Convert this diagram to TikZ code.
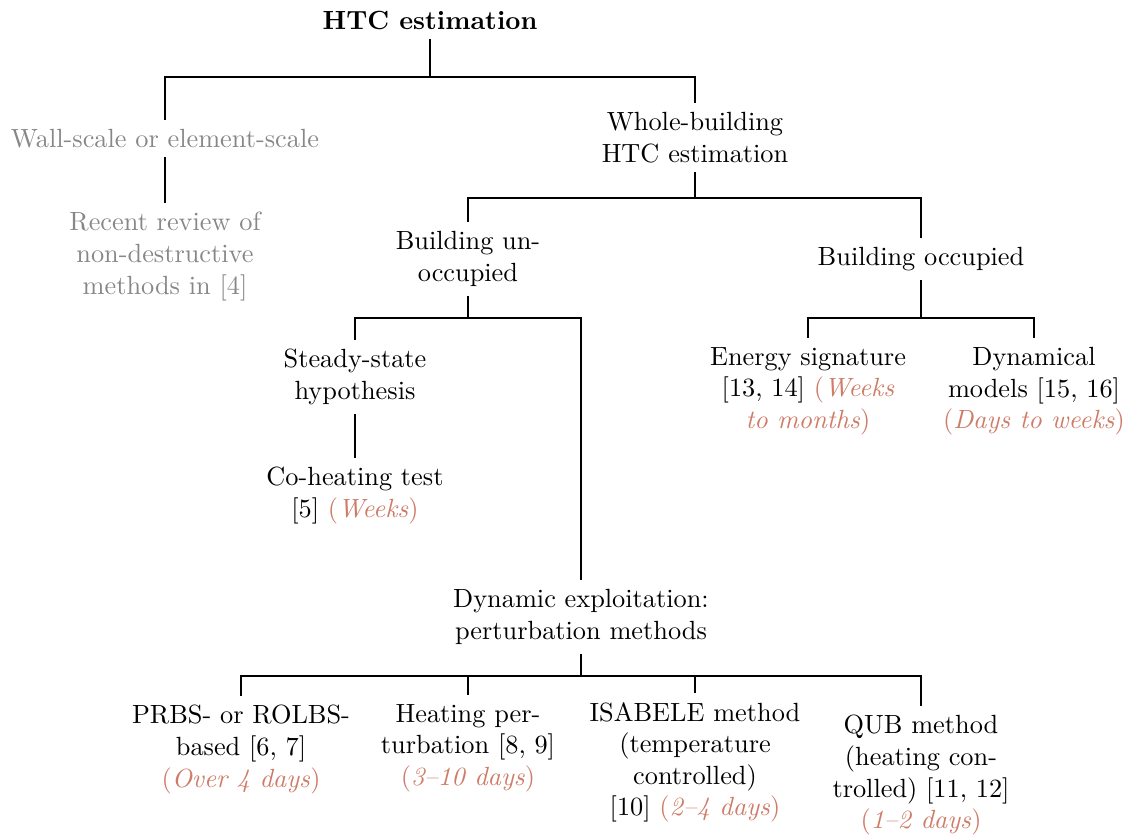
\documentclass[tikz,border=0pt]{standalone}
\usepackage{xcolor}
\definecolor{durcol}{RGB}{206,124,104}
\definecolor{graytxt}{RGB}{135,135,135}
\newcommand{\durtext}[1]{\textcolor{durcol}{#1}}
\begin{document}
\begin{tikzpicture}[x=0.38pt,y=-0.38pt,
  box/.style={align=center,anchor=north,inner sep=3.33pt},
  graybox/.style={box,text=graytxt},
  link/.style={draw=black,line width=0.4pt}]
\useasboundingbox (0,0) rectangle (1128,836);
% nodes
\node[anchor=center,inner sep=3.33pt] (root) at (430,20) {\textbf{HTC estimation}};
\node[graybox] (wall) at (165,120) {Wall-scale or element-scale};
\node[graybox] (review) at (165,203) {Recent review of\\non-destructive\\methods in [4]};
\node[box] (whole) at (695,103) {Whole-building\\HTC estimation};
\node[box] (unocc) at (468,222) {Building un-\\occupied};
\node[box] (occ) at (921,238) {Building occupied};
\node[box] (steady) at (355,340) {Steady-state\\hypothesis};
\node[box] (coheat) at (355,458) {Co-heating test\\{}[5] \durtext{(\emph{Weeks})}};
\node[box] (energy) at (808,338) {Energy signature\\{}[13, 14] \durtext{(\emph{Weeks}}\\\durtext{\emph{to months})}};
\node[box] (dynmod) at (1034,338) {Dynamical\\models [15, 16]\\\durtext{(\emph{Days to weeks})}};
\node[box] (dyn) at (581,580) {Dynamic exploitation:\\perturbation methods};
\node[box] (prbs) at (241,696) {PRBS- or ROLBS-\\based [6, 7]\\\durtext{(\emph{Over 4 days})}};
\node[box] (heat) at (468,695) {Heating per-\\turbation [8, 9]\\\durtext{(\emph{3--10 days})}};
\node[box] (isabele) at (695,693) {ISABELE method\\(temperature\\controlled)\\{}[10] \durtext{(\emph{2--4 days})}};
\node[box] (qub) at (921,706) {QUB method\\(heating con-\\trolled) [11, 12]\\\durtext{(\emph{1--2 days})}};
% bus coordinates
\coordinate (b1) at (430,77);
\coordinate (b2) at (695,198);
\coordinate (b3) at (468,318);
\coordinate (b4) at (921,318);
\coordinate (b5) at (581,676);
% connectors
\draw[link] (root.south) -- (b1);
\draw[link] (b1) -| (wall.north);
\draw[link] (b1) -| (whole.north);
\draw[link] (wall.south) -- (review.north);
\draw[link] (whole.south) -- (b2);
\draw[link] (b2) -| (unocc.north);
\draw[link] (b2) -| (occ.north);
\draw[link] (unocc.south) -- (b3);
\draw[link] (b3) -| (steady.north);
\draw[link] (b3) -| (dyn.north);
\draw[link] (steady.south) -- (coheat.north);
\draw[link] (occ.south) -- (b4);
\draw[link] (b4) -| (energy.north);
\draw[link] (b4) -| (dynmod.north);
\draw[link] (dyn.south) -- (b5);
\draw[link] (b5) -| (prbs.north);
\draw[link] (b5) -| (heat.north);
\draw[link] (b5) -| (isabele.north);
\draw[link] (b5) -| (qub.north);
\end{tikzpicture}
\end{document}
